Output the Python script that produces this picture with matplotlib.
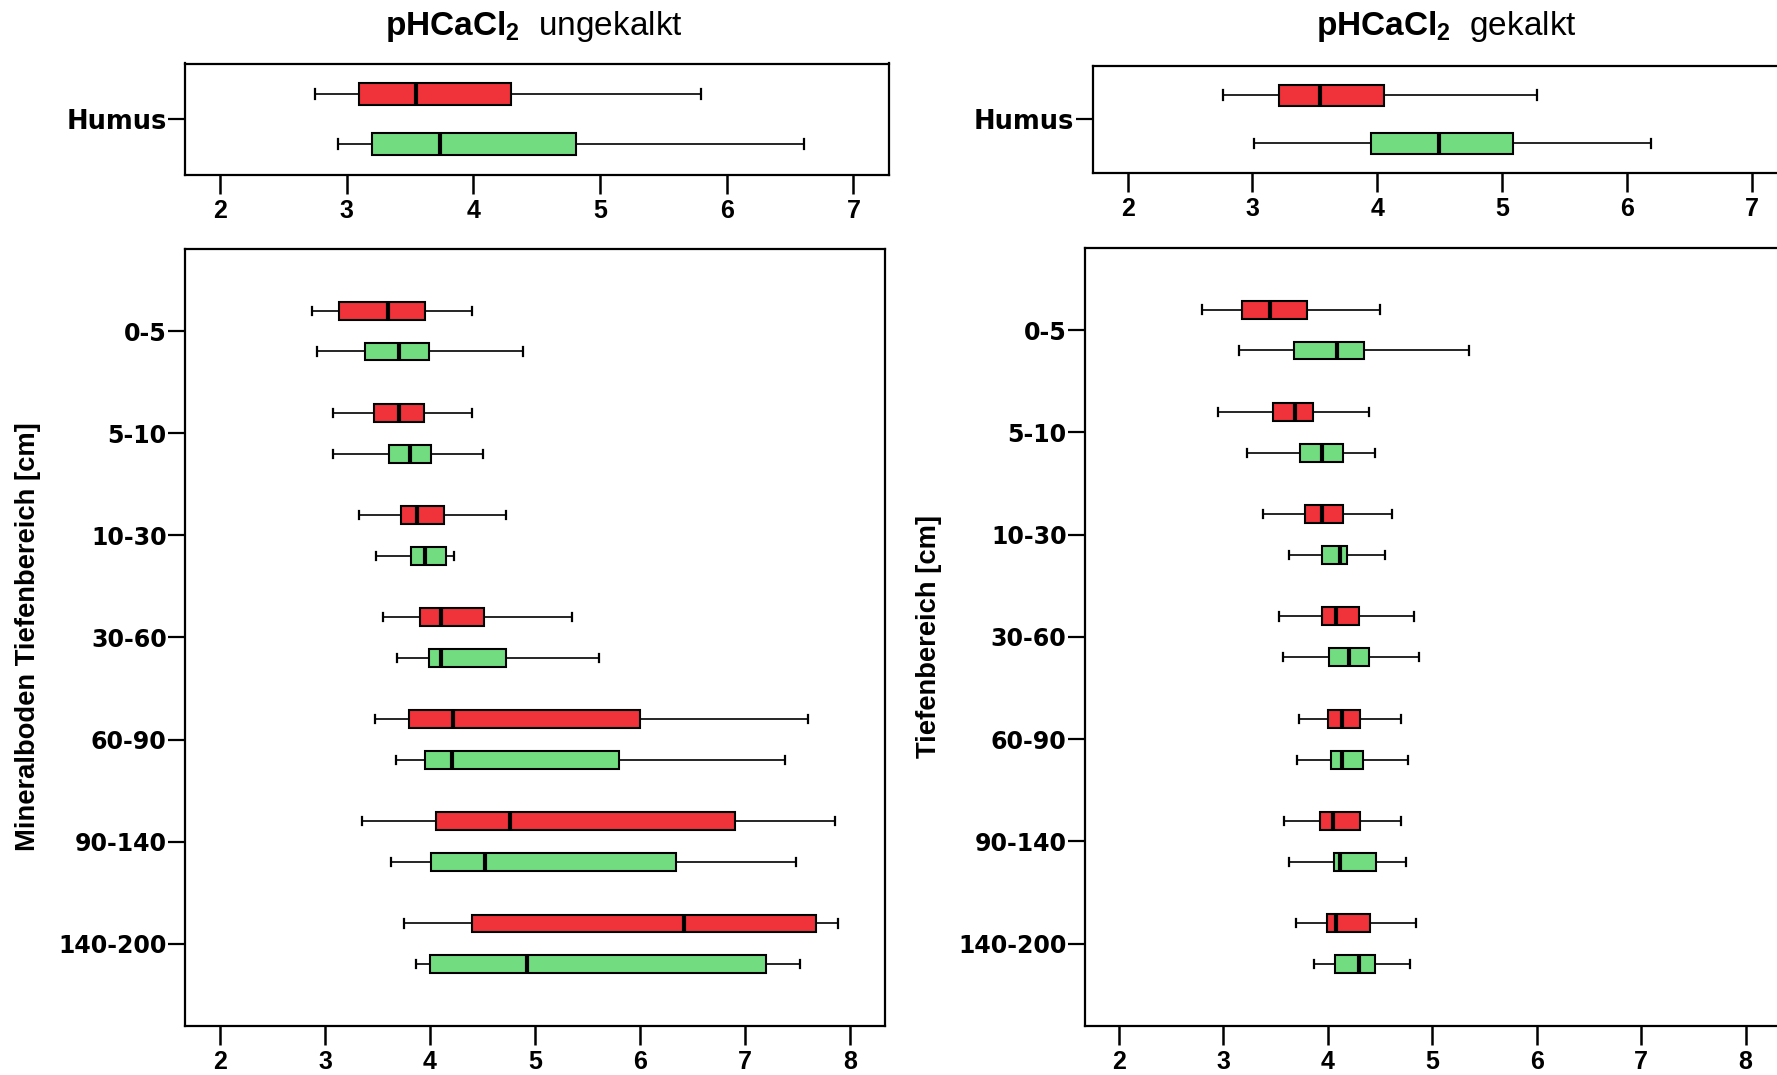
import matplotlib
matplotlib.use("Agg")
import matplotlib.pyplot as plt
from matplotlib import font_manager

# pH (CaCl2) box statistics per depth: (whisker low, Q1, median, Q3, whisker high)
depths = ["0-5", "5-10", "10-30", "30-60", "60-90", "90-140", "140-200"]
x_ticks_top = [2, 3, 4, 5, 6, 7]
x_ticks_bottom = [2, 3, 4, 5, 6, 7, 8]

# ungekalkt
ung_humus_red = (2.75, 3.10, 3.55, 4.30, 5.80)
ung_humus_green = (2.93, 3.20, 3.74, 4.81, 6.61)
ung_red = [
    (2.88, 3.13, 3.60, 3.95, 4.40),
    (3.08, 3.47, 3.70, 3.94, 4.40),
    (3.32, 3.72, 3.88, 4.13, 4.72),
    (3.55, 3.90, 4.10, 4.51, 5.35),
    (3.48, 3.80, 4.22, 6.00, 7.60),
    (3.35, 4.06, 4.76, 6.90, 7.85),
    (3.75, 4.40, 6.42, 7.67, 7.88),
]
ung_green = [
    (2.92, 3.38, 3.70, 3.99, 4.88),
    (3.08, 3.61, 3.81, 4.01, 4.50),
    (3.49, 3.82, 3.95, 4.15, 4.23),
    (3.69, 3.99, 4.10, 4.72, 5.61),
    (3.68, 3.95, 4.21, 5.80, 7.38),
    (3.63, 4.01, 4.52, 6.34, 7.48),
    (3.87, 4.00, 4.92, 7.20, 7.52),
]

# gekalkt
gek_humus_red = (2.76, 3.21, 3.54, 4.05, 5.28)
gek_humus_green = (3.01, 3.95, 4.49, 5.09, 6.19)
gek_red = [
    (2.80, 3.18, 3.45, 3.80, 4.50),
    (2.95, 3.48, 3.69, 3.86, 4.40),
    (3.38, 3.78, 3.95, 4.15, 4.62),
    (3.53, 3.95, 4.08, 4.30, 4.83),
    (3.73, 4.00, 4.14, 4.31, 4.70),
    (3.58, 3.93, 4.05, 4.31, 4.70),
    (3.70, 3.99, 4.08, 4.41, 4.85),
]
gek_green = [
    (3.15, 3.68, 4.09, 4.35, 5.35),
    (3.23, 3.74, 3.95, 4.15, 4.45),
    (3.63, 3.95, 4.12, 4.19, 4.55),
    (3.57, 4.01, 4.20, 4.40, 4.87),
    (3.71, 4.03, 4.14, 4.34, 4.77),
    (3.63, 4.06, 4.12, 4.46, 4.75),
    (3.87, 4.07, 4.30, 4.45, 4.79),
]

RED = "#f0323a"
GREEN = "#71dd80"

installed = {f.name for f in font_manager.fontManager.ttflist}
narrow = "Liberation Sans Narrow" if "Liberation Sans Narrow" in installed else "Liberation Sans"
narrow_scale = 1.0 if narrow == "Liberation Sans Narrow" else 0.89

plt.rcParams["mathtext.fontset"] = "custom"
plt.rcParams["mathtext.rm"] = narrow
plt.rcParams["mathtext.bf"] = narrow + ":bold"

W, H = 1777, 1075
fig = plt.figure(figsize=(W / 100, H / 100), dpi=100)


def px_axes(x0, y0, x1, y1):
    return fig.add_axes([x0 / W, 1 - y1 / H, (x1 - x0) / W, (y1 - y0) / H])


def to_stats(rows):
    return [dict(whislo=r[0], q1=r[1], med=r[2], q3=r[3], whishi=r[4], fliers=[]) for r in rows]


def draw_boxes(ax, rows, positions, color):
    ax.bxp(to_stats(rows), positions=positions, widths=0.175, orientation="horizontal",
           patch_artist=True, showfliers=False, capwidths=0.08, manage_ticks=False,
           boxprops=dict(facecolor=color, edgecolor="black", linewidth=1.5),
           medianprops=dict(color="black", linewidth=3, solid_capstyle="butt"),
           whiskerprops=dict(color="black", linewidth=1.2),
           capprops=dict(color="black", linewidth=1.6))


def style_axes(ax, xticks, xlim, ylim, ylabels, ypos, ysize):
    ax.set_xlim(*xlim)
    ax.set_ylim(*ylim)
    for s in ax.spines.values():
        s.set_linewidth(1.6)
    ax.set_xticks(xticks)
    ax.set_xticklabels([str(t) for t in xticks], fontsize=18,
                       fontweight="bold", family=narrow)
    ax.set_yticks(ypos)
    ax.set_yticklabels(ylabels, fontsize=ysize, fontweight="bold", family="DejaVu Sans")
    ax.tick_params(axis="x", direction="out", length=13.5, width=1.8, pad=4)
    ax.tick_params(axis="y", direction="out", length=12, width=1.6, pad=1)


ypos = list(range(len(depths)))
red_pos = [p - 0.2 for p in ypos]
green_pos = [p + 0.2 for p in ypos]

panels = [
    # (top axes px, bottom axes px, top xlim, bottom xlim, humus red, humus green, red rows, green rows)
    ((184.7, 63.5, 888.9, 174.5), (184.7, 249.3, 885.0, 1025.6), (1.722, 7.28), (1.665, 8.33),
     ung_humus_red, ung_humus_green, ung_red, ung_green),
    ((1092.5, 65.5, 1787.0, 173.0), (1084.6, 248.2, 1780.0, 1025.6), (1.719, 7.28), (1.674, 8.33),
     gek_humus_red, gek_humus_green, gek_red, gek_green),
]

for top_px, bot_px, top_xlim, bot_xlim, h_red, h_green, rows_red, rows_green in panels:
    ax_top = px_axes(*top_px)
    draw_boxes(ax_top, [h_red], [-0.2], RED)
    draw_boxes(ax_top, [h_green], [0.2], GREEN)
    style_axes(ax_top, x_ticks_top, top_xlim, (0.445, -0.445), ["Humus"], [0], 18.5)

    ax_bot = px_axes(*bot_px)
    draw_boxes(ax_bot, rows_red, red_pos, RED)
    draw_boxes(ax_bot, rows_green, green_pos, GREEN)
    style_axes(ax_bot, x_ticks_bottom, bot_xlim, (6.8, -0.8), depths, ypos, 17)

# titles
title_size = 27 * narrow_scale
fig.text(534 / W, 1 - 27 / H, r"$\mathbf{pHCaCl_2}$  ungekalkt", ha="center", va="center",
         fontsize=title_size, family=narrow)
fig.text(1446 / W, 1 - 27 / H, r"$\mathbf{pHCaCl_2}$  gekalkt", ha="center", va="center",
         fontsize=title_size, family=narrow)

# axis labels
fig.text(28 / W, 1 - 637 / H, "Mineralboden Tiefenbereich [cm]", rotation=90, ha="center",
         va="center", fontsize=19.7, fontweight="bold", family="Liberation Sans")
fig.text(929 / W, 1 - 637 / H, "Tiefenbereich [cm]", rotation=90, ha="center",
         va="center", fontsize=19.7, fontweight="bold", family="Liberation Sans")

fig.savefig("out.png", dpi=100)
